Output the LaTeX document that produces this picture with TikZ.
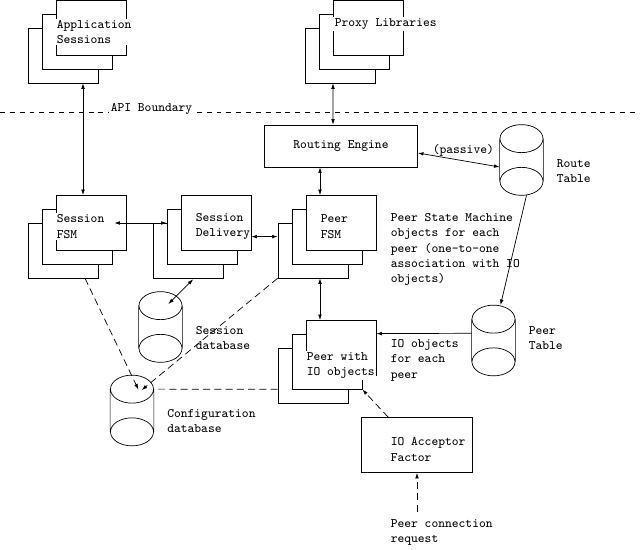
\documentclass[tikz,border=0pt]{standalone}
\usepackage{fontspec}
\usetikzlibrary{shapes,arrows.meta,shadows}

\begin{document}
\begin{tikzpicture}[
        x=0.025cm, y=-0.025cm,
        font=\ttfamily\fontsize{9.2}{11}\selectfont,
        line width=0.5pt,
        >={Latex[length=4pt,width=2.6pt]},
        stack/.style={rectangle, draw, fill=white, minimum width=1.75cm, minimum height=1.375cm, inner sep=0pt,
            copy shadow={shadow xshift=-0.7cm, shadow yshift=-0.685cm, draw, fill=white},
            copy shadow={shadow xshift=-0.35cm, shadow yshift=-0.34cm, draw, fill=white}},
        box/.style={rectangle, draw, fill=white, inner sep=0pt},
        db/.style={rectangle, minimum width=1.075cm, minimum height=1.75cm, inner sep=0pt},
        lbl/.style={align=left, inner sep=1pt},
        arrow/.style={<->},
        link/.style={->},
        dline/.style={dash pattern=on 5pt off 3pt},
        dlink/.style={->, dash pattern=on 5pt off 3pt}
    ]
        \useasboundingbox (0,0) rectangle (640,550);

        % API boundary
        \draw[dash pattern=on 3.5pt off 3.5pt] (0,112) -- (640,112);
        \node[lbl, fill=white, anchor=base west] (api) at (109,112) {API Boundary};

        % upper layer
        \node[stack] (apps) at (91,28) {};
        \node[lbl, fill=white, anchor=west] (appsl) at (55,32) {Application\\Sessions};
        \node[stack] (prx) at (368,28) {};
        \node[lbl, fill=white, anchor=west] (prxl) at (333,24) {Proxy Libraries};

        \node[box, minimum width=3.825cm, minimum height=1.05cm] (rte) at (341,146) {Routing Engine};
        \node[db] (rtab) at (521.5,160) {};
        \node[lbl, anchor=west] (rtabl) at (555,171) {Route\\Table};
        \node[lbl, anchor=west] (pas) at (431,150) {(passive)};

        % state machines
        \node[stack] (sfsm) at (91,223) {};
        \node[lbl, fill=white, anchor=west] (sfsml) at (55,226.5) {Session\\FSM};
        \node[stack] (sdel) at (216,223) {};
        \node[lbl, anchor=west] (sdell) at (194,226.5) {Session\\Delivery};
        \node[stack] (pfsm) at (341,223) {};
        \node[lbl, anchor=west] (pfsml) at (319,226.5) {Peer\\FSM};
        \node[lbl, anchor=west] (pfsmn) at (389,249.5) {Peer State Machine\\objects for each\\peer (one-to-one\\association with IO\\objects)};

        \node[db] (sdb) at (160.5,327) {};
        \node[lbl, anchor=west] (sdbl) at (194,338) {Session\\database};
        \node[db] (cdb) at (132,410.5) {};
        \node[lbl, anchor=west] (cdbl) at (165.5,421) {Configuration\\database};

        % io layer
        \node[stack] (pio) at (341,348) {};
        \node[lbl, fill=white, anchor=west] (piol) at (305,365.5) {Peer with\\IO objects};
        \node[db] (ptab) at (493.5,340.5) {};
        \node[lbl, anchor=west] (ptabl) at (527,338) {Peer\\Table};
        \node[lbl, anchor=west] (pion) at (389,360) {IO objects\\for each\\peer};

        \node[box, minimum width=2.765cm, minimum height=1.375cm] (iof) at (417,445) {};
        \node[lbl, anchor=west] (iofl) at (389,449.5) {IO Acceptor\\Factor};
        \node[lbl, anchor=west] (req) at (389,532.5) {Peer connection\\request};

        % databases
        \draw ([yshift=-0.35cm]rtab.north) ellipse [x radius=0.5375cm, y radius=0.35cm]
              ([yshift=0.35cm]rtab.south) ellipse [x radius=0.5375cm, y radius=0.35cm]
              ([yshift=-0.35cm]rtab.north west) -- ([yshift=0.35cm]rtab.south west)
              ([yshift=-0.35cm]rtab.north east) -- ([yshift=0.35cm]rtab.south east);
        \draw ([yshift=-0.35cm]ptab.north) ellipse [x radius=0.5375cm, y radius=0.35cm]
              ([yshift=0.35cm]ptab.south) ellipse [x radius=0.5375cm, y radius=0.35cm]
              ([yshift=-0.35cm]ptab.north west) -- ([yshift=0.35cm]ptab.south west)
              ([yshift=-0.35cm]ptab.north east) -- ([yshift=0.35cm]ptab.south east);
        \draw ([yshift=-0.35cm]sdb.north) ellipse [x radius=0.5375cm, y radius=0.35cm]
              ([yshift=0.35cm]sdb.south) ellipse [x radius=0.5375cm, y radius=0.35cm]
              ([yshift=-0.35cm]sdb.north west) -- ([yshift=0.35cm]sdb.south west)
              ([yshift=-0.35cm]sdb.north east) -- ([yshift=0.35cm]sdb.south east);
        \draw ([yshift=-0.35cm]cdb.north) ellipse [x radius=0.5375cm, y radius=0.35cm]
              ([yshift=0.35cm]cdb.south) ellipse [x radius=0.5375cm, y radius=0.35cm]
              ([yshift=-0.35cm]cdb.north west) -- ([yshift=0.35cm]cdb.south west)
              ([yshift=-0.35cm]cdb.north east) -- ([yshift=0.35cm]cdb.south east);

        % connectors
        \draw[arrow] ([shift={(-0.2cm,-0.685cm)}]apps.south) -- ([xshift=-0.2cm]sfsm.north);
        \draw[arrow] ([shift={(-0.875cm,-0.685cm)}]prx.south) -- ([xshift=-0.2cm]rte.north);
        \draw[arrow] ([yshift=-0.175cm]rte.east) -- ([yshift=-0.175cm]rtab.west);
        \draw[arrow] ([xshift=-0.525cm]rte.south) -- ([xshift=-0.525cm]pfsm.north);
        \draw[arrow] ([xshift=-0.3cm]sfsm.east) -- ([xshift=-0.35cm]sdel.west);
        \draw[arrow] ([yshift=-0.34cm]sdel.east) -- ([shift={(-0.7cm,-0.34cm)}]pfsm.west);
        \draw[arrow] ([shift={(-0.57cm,-0.71cm)}]sdel.south) -- ([shift={(0.195cm,-0.31cm)}]sdb.north);
        \draw[arrow] ([shift={(-0.525cm,-0.685cm)}]pfsm.south) -- ([xshift=-0.525cm]pio.north);
        \draw[link] ([xshift=0.125cm]rtab.south) -- ([xshift=0.175cm]ptab.north);
        \draw[link] ([yshift=0.18cm]ptab.west) -- ([yshift=0.36cm]pio.east);

        \draw[dlink] ([shift={(-0.15cm,-0.685cm)}]sfsm.south) -- ([shift={(0.16cm,-0.36cm)}]cdb.north);
        \draw[dlink] ([shift={(-0.7cm,-0.685cm)}]pfsm.south west) -- ([shift={(0.24cm,-0.375cm)}]cdb.north);
        \draw[dline] ([shift={(-0.7cm,-1.03cm)}]pio.west) -- ([yshift=-0.35cm]cdb.north east);
        \draw[dlink] ([xshift=-0.72cm]iof.north) -- ([shift={(-0.35cm,-0.34cm)}]pio.south east);
        \draw[dlink] ([yshift=0.15cm]req.north -| iof.south) -- (iof.south);
    \end{tikzpicture}
\end{document}
